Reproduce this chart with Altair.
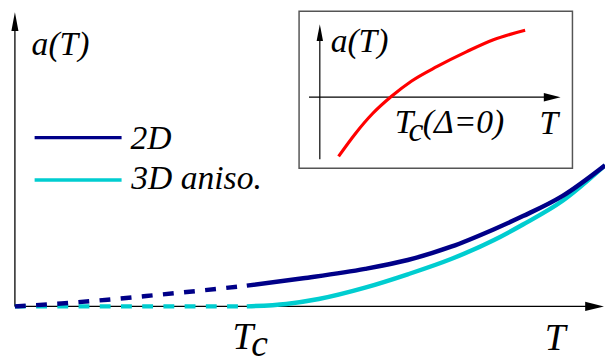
import altair as alt
import pandas as pd

# ---------------- data ----------------
# main panel: T in units of T_c, a(T) in arbitrary units
T_2d_dash = [0.0, 0.2, 0.4, 0.6, 0.8, 1.0]
a_2d_dash = [0.0, 0.03, 0.068, 0.113, 0.16, 0.21]
T_2d = [1.0, 1.243, 1.51, 1.694, 1.881, 2.064, 2.191, 2.362, 2.545]
a_2d = [0.21, 0.285, 0.38, 0.47, 0.605, 0.78, 0.915, 1.12, 1.43]
T_3d_dash = [0.0, 1.0]
a_3d_dash = [0.0, 0.0]
T_3d = [1.0, 1.17, 1.31, 1.51, 1.694, 1.881, 2.064, 2.191, 2.362, 2.545]
a_3d = [0.0, 0.025, 0.075, 0.19, 0.325, 0.48, 0.67, 0.83, 1.07, 1.43]

series_names = ["2D", "3D aniso."]

# inset: T in units of T_c(Δ=0)
T_in = [0.26, 0.49, 0.73, 1.0, 1.27, 1.63, 2.04, 2.41, 2.85]
a_in = [-1.0, -0.62, -0.28, 0.02, 0.27, 0.52, 0.77, 0.97, 1.13]

# text labels
main_texts = ["a(T)", "2D", "3D aniso."]
main_text_T = [0.072, 0.498, 0.502]
main_text_a = [2.55, 1.59, 1.19]
tick_texts = ["T", "c", "T"]
tick_T = [0.983, 1.055, 2.33]
tick_a = [-0.43, -0.505, -0.44]
inset_texts = ["a(T)", "T", "c", "(Δ=0)"]
inset_text_T = [0.15, 1.04, 1.23, 1.43]
inset_text_a = [0.767, -0.6, -0.733, -0.6]
inset_T_label = ["T"]
inset_T_label_T = [3.18]
inset_T_label_a = [-0.62]

NAVY = "#000088"
CYAN = "#00CDD0"
RED = "#FF0000"
FONT = "Liberation Serif"

# ---------------- scales ----------------
xs = alt.Scale(domain=[-7 / 235, 598 / 235], nice=False, zero=False)
ys = alt.Scale(domain=[-0.56, 3.0], nice=False, zero=False)
xi = alt.Scale(domain=[0, 3], range=[316, 535], nice=False, zero=False)
yi = alt.Scale(domain=[-1, 1], range=[148, 28], nice=False, zero=False)


def X(sc, f="T"):
    return alt.X(f"{f}:Q", scale=sc, axis=None)


def Y(sc, f="a"):
    return alt.Y(f"{f}:Q", scale=sc, axis=None)


def line(T, a, color, width, dash=None, sx=xs, sy=ys):
    df = pd.DataFrame({"T": T, "a": a, "o": list(range(len(T)))})
    kw = dict(color=color, strokeWidth=width, interpolate="monotone", strokeCap="butt")
    if dash:
        kw["strokeDash"] = dash
    return alt.Chart(df).mark_line(**kw).encode(x=X(sx), y=Y(sy), order="o:Q")


def texts(t, T, a, size, align, sx=xs, sy=ys):
    df = pd.DataFrame({"t": t, "T": T, "a": a})
    return alt.Chart(df).mark_text(
        font=FONT, fontStyle="italic", fontSize=size, align=align, baseline="alphabetic"
    ).encode(x=X(sx), y=Y(sy), text="t:N")


def arrow(T, a, path, size, sx=xs, sy=ys):
    df = pd.DataFrame({"T": [T], "a": [a]})
    return alt.Chart(df).mark_point(
        shape=path, size=size, filled=True, fill="black", opacity=1, strokeWidth=0
    ).encode(x=X(sx), y=Y(sy))


UP = "M0,0L-0.38,2L0.38,2Z"
RIGHT = "M0,0L-2,-0.5L-2,0.5Z"

# ---------------- main panel ----------------
axis_v = alt.Chart(pd.DataFrame({"T": [0.0], "a": [0.0], "a2": [2.85]})).mark_rule(
    color="black", strokeWidth=1.3).encode(x=X(xs), y=Y(ys), y2="a2:Q")
axis_h = alt.Chart(pd.DataFrame({"T": [0.0], "T2": [2.50], "a": [0.0]})).mark_rule(
    color="black", strokeWidth=1.3).encode(x=X(xs), x2="T2:Q", y=Y(ys))

legend_df = pd.DataFrame({"name": series_names, "T": [0.085, 0.085], "T2": [0.46, 0.46],
                          "a": [1.71, 1.28]})
legend_lines = alt.Chart(legend_df).mark_rule(strokeWidth=3.5).encode(
    x=X(xs), x2="T2:Q", y=Y(ys),
    color=alt.Color("name:N", scale=alt.Scale(domain=series_names, range=[NAVY, CYAN]), legend=None))

main = alt.layer(
    axis_v, axis_h,
    arrow(0.0, 2.98, UP, 361),
    arrow(2.540, 0.0, RIGHT, 361),
    line(T_3d_dash, a_3d_dash, CYAN, 4.5, [11, 10.5]),
    line(T_2d_dash, a_2d_dash, NAVY, 4.5, [11, 10.5]),
    line(T_3d, a_3d, CYAN, 4.5),
    line(T_2d, a_2d, NAVY, 4.5),
    legend_lines,
    texts(main_texts, main_text_T, main_text_a, 34, "left"),
    texts(tick_texts, tick_T, tick_a, 38, "center"),
)

# ---------------- inset ----------------
box = alt.Chart(pd.DataFrame({"T": [-0.288], "T2": [3.507], "a": [-1.2], "a2": [1.45]})).mark_rect(
    fill="white", stroke="#555555", strokeWidth=1.5).encode(
    x=X(xi), x2="T2:Q", y=Y(yi), y2="a2:Q")
in_v = alt.Chart(pd.DataFrame({"T": [0.0], "a": [-1.05], "a2": [1.1]})).mark_rule(
    color="black", strokeWidth=1.2).encode(x=X(xi), y=Y(yi), y2="a2:Q")
in_h = alt.Chart(pd.DataFrame({"T": [-0.15], "T2": [3.2], "a": [0.0]})).mark_rule(
    color="black", strokeWidth=1.2).encode(x=X(xi), x2="T2:Q", y=Y(yi))

inset = alt.layer(
    box, in_v, in_h,
    arrow(0.0, 1.233, UP, 289, xi, yi),
    arrow(3.342, 0.0, RIGHT, 289, xi, yi),
    line(T_in, a_in, RED, 3.2, sx=xi, sy=yi),
    texts(inset_texts, inset_text_T, inset_text_a, 34, "left", xi, yi),
    texts(inset_T_label, inset_T_label_T, inset_T_label_a, 34, "center", xi, yi),
)

chart = alt.layer(main, inset).resolve_scale(x="independent", y="independent").properties(
    width=605, height=356, padding=0, autosize=alt.AutoSizeParams(type="none")
).configure_view(strokeWidth=0)

chart.save("out.html", embed_options={"renderer": "svg", "actions": False})
